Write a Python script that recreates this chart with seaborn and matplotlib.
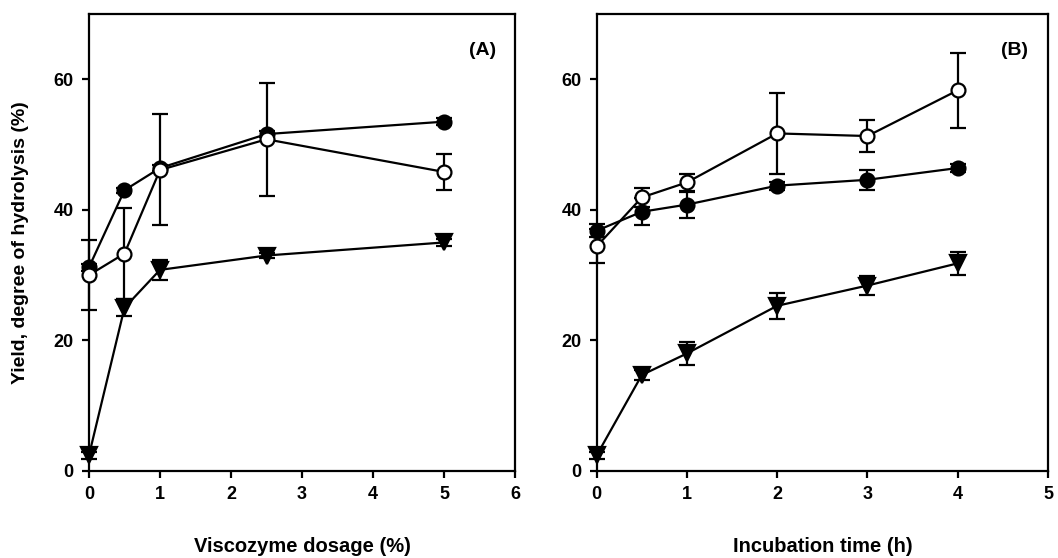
import numpy as np
import pandas as pd
import matplotlib
matplotlib.use("Agg")
import matplotlib.pyplot as plt
import seaborn as sns

# ---- Data: panel A (Viscozyme dosage) ----
dose = [0, 0.5, 1, 2.5, 5]
a_filled = [31.2, 43.0, 46.4, 51.6, 53.5]
a_filled_err = [0.5, 0.4, 0.5, 0.5, 0.5]
a_open = [30.0, 33.3, 46.1, 50.8, 45.8]
a_open_err = [5.3, 7.0, 8.5, 8.7, 2.7]
a_tri = [2.4, 25.0, 30.8, 33.0, 35.0]
a_tri_err = [0.5, 1.3, 1.5, 0.4, 0.5]

# ---- Data: panel B (Incubation time) ----
time_h = [0, 0.5, 1, 2, 3, 4]
b_filled = [36.8, 39.7, 40.8, 43.7, 44.6, 46.4]
b_filled_err = [1.0, 2.1, 2.0, 0.6, 1.5, 0.6]
b_open = [34.4, 41.9, 44.2, 51.7, 51.3, 58.3]
b_open_err = [2.6, 1.5, 1.3, 6.2, 2.4, 5.7]
b_tri = [2.4, 14.7, 18.0, 25.3, 28.4, 31.8]
b_tri_err = [0.5, 0.8, 1.8, 2.0, 1.5, 1.8]

sns.set_style("ticks")
plt.rcParams['font.family'] = ['Liberation Sans', 'DejaVu Sans']
plt.rcParams['font.weight'] = 'bold'
for k in ['text.color', 'axes.labelcolor', 'xtick.color', 'ytick.color', 'axes.edgecolor']:
    plt.rcParams[k] = 'black'

fig = plt.figure(figsize=(10.58, 5.58), dpi=100)
axA = fig.add_axes([0.0841, 0.156, 0.4027, 0.819])
axB = fig.add_axes([0.564, 0.156, 0.4265, 0.819])

series_style = [
    ("filled", dict(marker="o", mfc="black", mec="black")),
    ("open", dict(marker="o", mfc="white", mec="black")),
    ("tri", dict(marker="v", mfc="black", mec="black")),
]

def draw(ax, x, ys, errs, xmax, xlabel, tag):
    for (name, st), y, e in zip(series_style, ys, errs):
        df = pd.DataFrame({"x": x, "y": y})
        ax.errorbar(x, y, yerr=e, fmt="none", ecolor="black", elinewidth=1.6,
                    capsize=6, capthick=1.6, zorder=2, clip_on=False)
        sns.lineplot(data=df, x="x", y="y", ax=ax, color="black", linewidth=1.6,
                     marker=st["marker"], markersize=10 if st["marker"] == "o" else 11,
                     markerfacecolor=st["mfc"], markeredgecolor=st["mec"],
                     markeredgewidth=1.6, zorder=3, clip_on=False)
    ax.set_xlim(0, xmax)
    ax.set_ylim(0, 70)
    ax.set_xticks(range(0, xmax + 1))
    ax.set_yticks([0, 20, 40, 60])
    ax.tick_params(direction="out", length=5, width=1.6, labelsize=13, pad=6,
                   colors="black")
    for lab in ax.get_xticklabels() + ax.get_yticklabels():
        lab.set_fontweight("bold")
    for sp in ax.spines.values():
        sp.set_linewidth(1.6)
        sp.set_visible(True)
        sp.set_color("black")
    ax.set_xlabel(xlabel, fontsize=14.5, fontweight="bold", labelpad=24, color="black")
    ax.set_ylabel("")
    ax.text(0.955, 0.92, tag, transform=ax.transAxes, ha="right", va="center",
            fontsize=14, fontweight="bold", color="black")

draw(axA, dose, [a_filled, a_open, a_tri], [a_filled_err, a_open_err, a_tri_err],
     6, "Viscozyme dosage (%)", "(A)")
draw(axB, time_h, [b_filled, b_open, b_tri], [b_filled_err, b_open_err, b_tri_err],
     5, "Incubation time (h)", "(B)")
axA.set_ylabel("Yield, degree of hydrolysis (%)", fontsize=14, fontweight="bold",
               labelpad=18, color="black")

fig.savefig("out.png", dpi=100)
